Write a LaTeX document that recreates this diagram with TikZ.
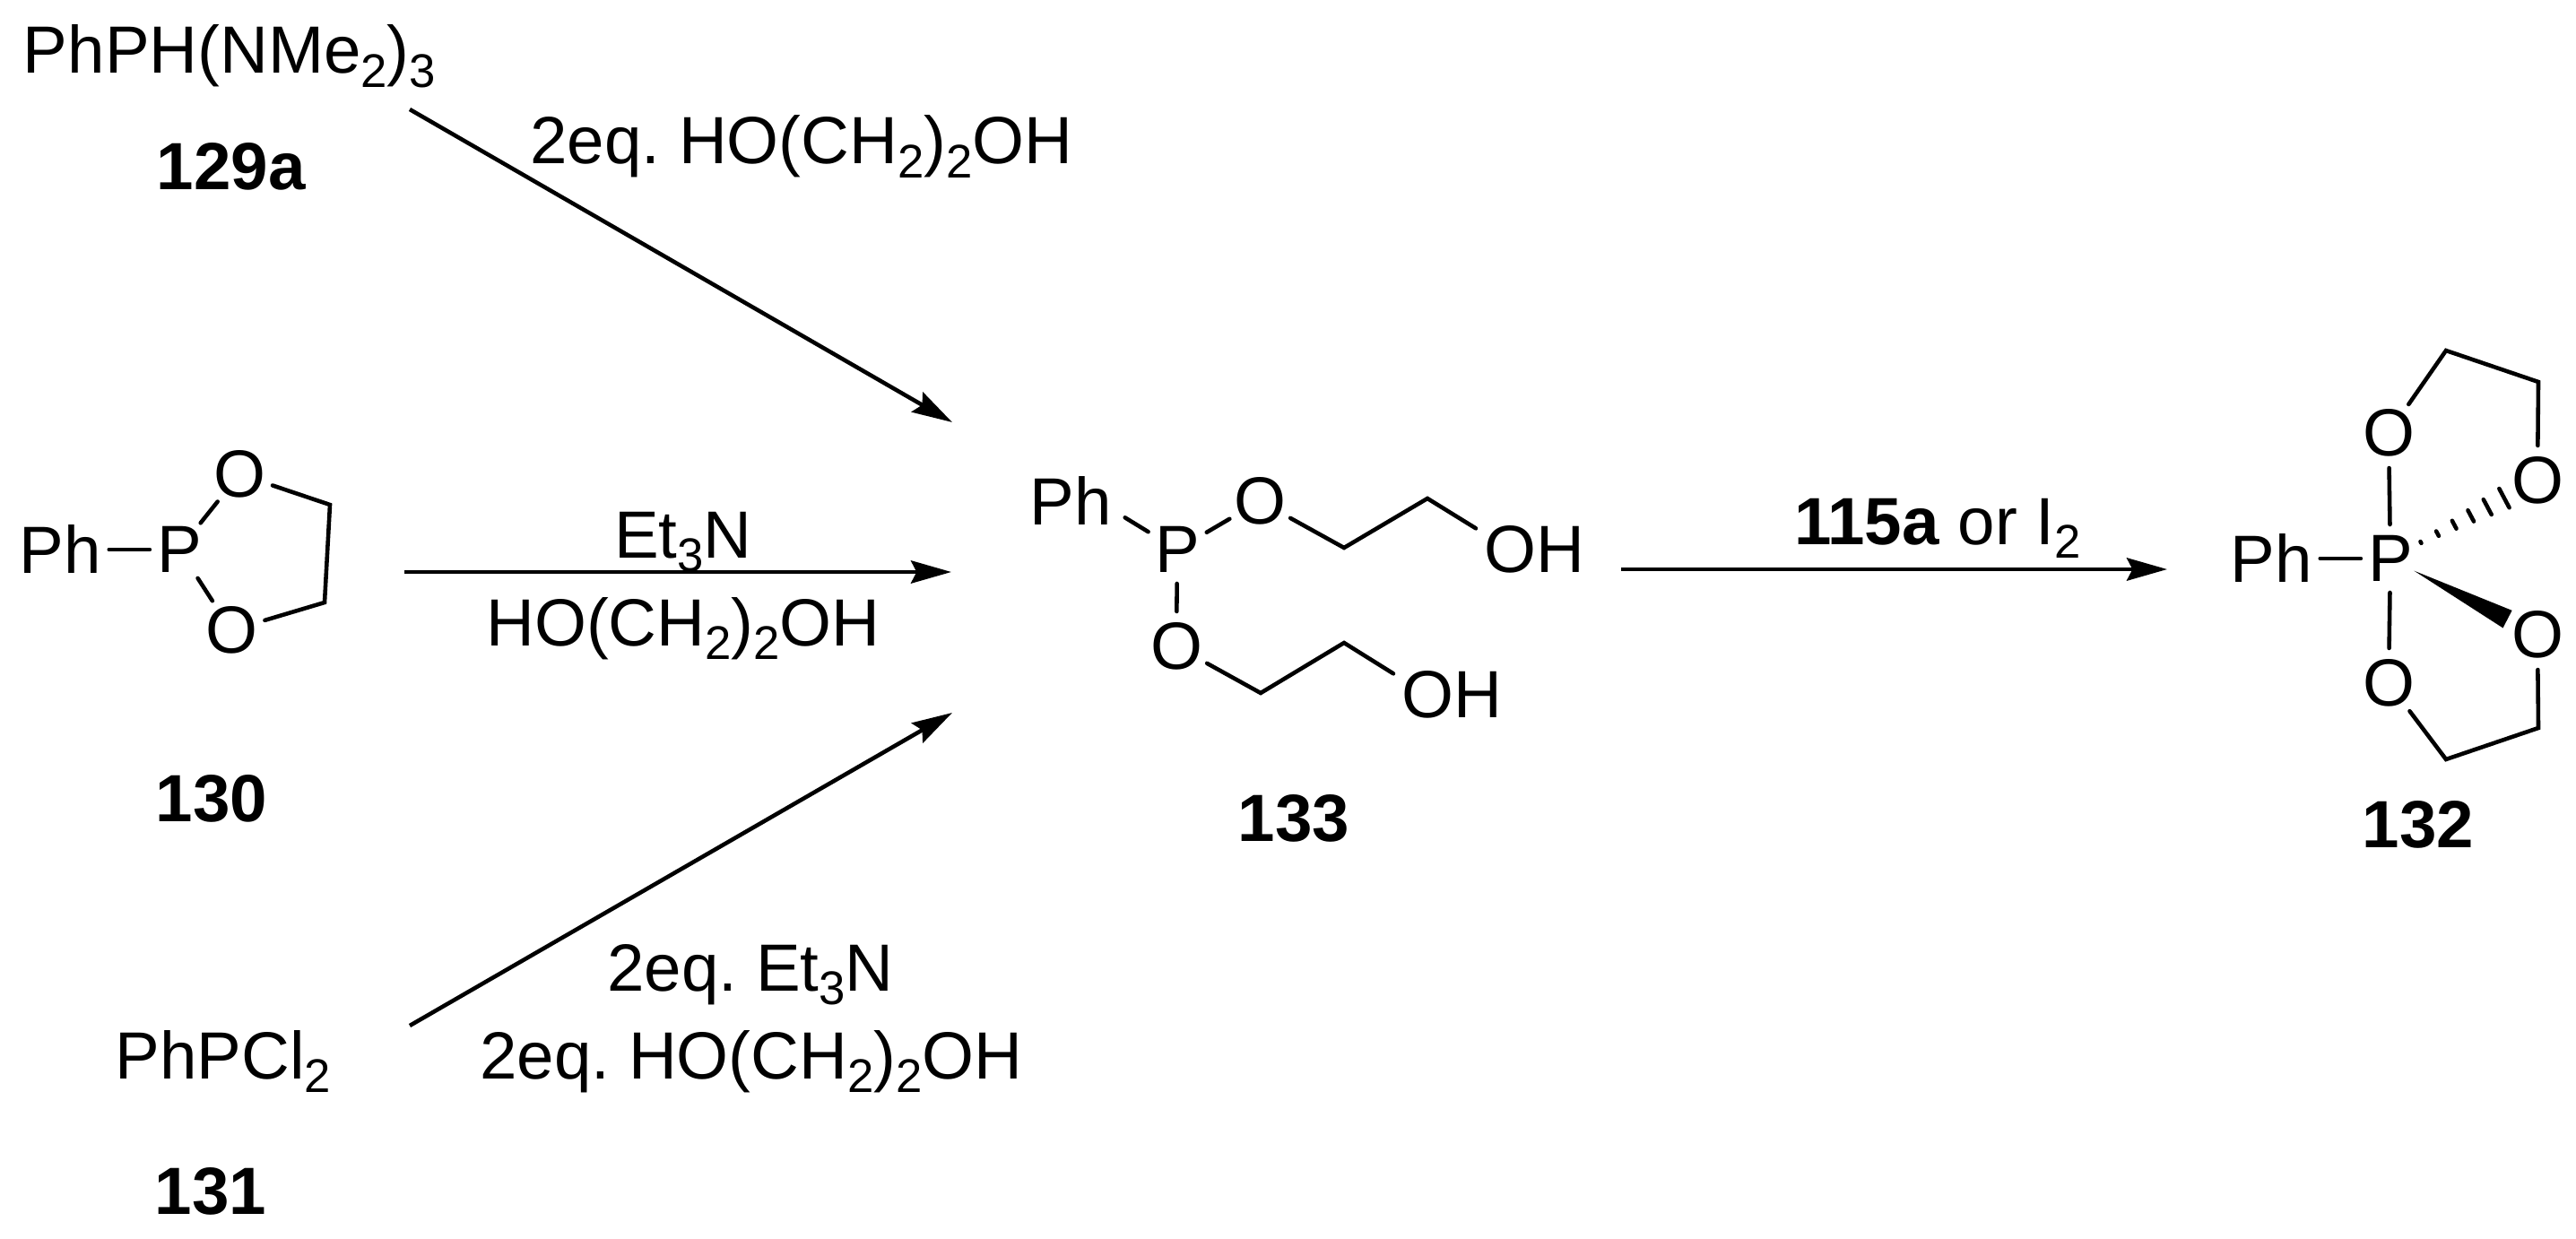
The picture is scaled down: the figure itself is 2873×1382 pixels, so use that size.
\documentclass[tikz,border=0pt]{standalone}
\usepackage{fontspec}
\setmainfont{Liberation Sans}
\usetikzlibrary{arrows.meta,calc}
\newcommand{\chemsub}[1]{\raisebox{-4.5pt}{\fontsize{15}{15}\selectfont #1}}
\frenchspacing
\tikzset{
    every node/.style={font=\fontsize{21.2}{25}\selectfont},
    atom/.style={circle, inner sep=0, outer sep=0, minimum size=.76cm},
    lig/.style={inner sep=2.6pt, outer sep=0},
    txt/.style={anchor=base, inner sep=0},
    bond/.style={line width=1.3pt, line cap=round},
    rxn/.style={line width=1.3pt, -{Stealth[length=12.8pt,width=7.2pt,inset=1.8pt]}},
}

\begin{document}
\begin{tikzpicture}[x=.1mm, y=-.1mm]
    \useasboundingbox (0,0) rectangle (2873,1382);
    \def\mw{1.1mm}

    % starting materials
    \node [txt] (s129) at (256,82) {PhPH(NMe\chemsub{2})\chemsub{3}};
    \node [txt] (n129) at (258,212) {\textbf{129a}};
    \node [txt] (s131) at (249,1203) {PhPCl\chemsub{2}};
    \node [txt] (n131) at (235,1354) {\textbf{131}};

    \node [lig] (Ph130) at (67,613) {Ph};
    \node [atom] (P130) at (200,613) {P};
    \node [atom] (O130a) at (267,529) {O};
    \node [atom] (O130b) at (258,703) {O};
    \coordinate (C130a) at (368,563);
    \coordinate (C130b) at (362,672);
    \draw [bond, shorten >=-1.4pt] (Ph130) -- (P130);
    \draw [bond] (P130) -- (O130a);
    \draw [bond] (P130) -- (O130b);
    \draw [bond] (O130a) -- (C130a) -- (C130b) -- (O130b);
    \node [txt] (n130) at (236,916) {\textbf{130}};

    % the three routes and their reagents
    \coordinate (a1s) at (457,122);
    \coordinate (a1e) at (1062,471);
    \coordinate (a2s) at (451,638);
    \coordinate (a2e) at (1061,638);
    \coordinate (a3s) at (457,1144);
    \coordinate (a3e) at (1062,795);
    \draw [rxn] (a1s) -- (a1e);
    \draw [rxn] (a2s) -- (a2e);
    \draw [rxn] (a3s) -- (a3e);
    \node [txt] (r1) at (894,183) {2eq. HO(CH\chemsub{2})\chemsub{2}OH};
    \node [txt] (r2a) at (762,622) {Et\chemsub{3}N};
    \node [txt] (r2b) at (762,720) {HO(CH\chemsub{2})\chemsub{2}OH};
    \node [txt] (r3a) at (837,1105) {2eq. Et\chemsub{3}N};
    \node [txt] (r3b) at (838,1203) {2eq. HO(CH\chemsub{2})\chemsub{2}OH};

    % intermediate
    \node [lig] (Ph133) at (1194,559) {Ph};
    \node [atom] (P133) at (1313,613) {P};
    \node [atom] (O133a) at (1405,559) {O};
    \node [atom] (O133b) at (1312,721) {O};
    \coordinate (C133a) at (1499,611);
    \coordinate (C133b) at (1592,556);
    \coordinate (C133c) at (1406,773);
    \coordinate (C133d) at (1499,717);
    \node [lig] (OH133a) at (1711,613) {OH};
    \node [lig] (OH133b) at (1619,775) {OH};
    \draw [bond, shorten <=2pt] (Ph133.-15) -- (P133);
    \draw [bond] (P133) -- (O133a);
    \draw [bond] (P133) -- (O133b);
    \draw [bond] (O133a) -- (C133a) -- (C133b) -- (OH133a.160);
    \draw [bond] (O133b) -- (C133c) -- (C133d) -- (OH133b.160);
    \node [txt] (n133) at (1443,938) {\textbf{133}};

    \coordinate (a4s) at (1808,635);
    \coordinate (a4e) at (2417,635);
    \draw [rxn] (a4s) -- (a4e);
    \node [txt] (r4) at (2161,607) {\textbf{115a} or I\chemsub{2}};

    % product
    \node [lig] (Ph132) at (2533,623) {Ph};
    \node [atom] (P132) at (2666,623) {P};
    \node [atom] (O132a) at (2664,483) {O};
    \node [atom] (O132b) at (2830,536) {O};
    \node [atom] (O132c) at (2830,708) {O};
    \node [atom] (O132d) at (2664,762) {O};
    \coordinate (C132a) at (2728,391);
    \coordinate (C132b) at (2831,426);
    \coordinate (C132c) at (2831,812);
    \coordinate (C132d) at (2728,847);
    \draw [bond, shorten >=-1.4pt] (Ph132) -- (P132);
    \draw [bond] (P132) -- (O132a);
    \draw [bond] (P132) -- (O132d);
    \draw [bond] (O132a) -- (C132a) -- (C132b) -- (O132b);
    \draw [bond] (O132d) -- (C132d) -- (C132c) -- (O132c);
    \fill ($(P132)!.16!(O132c)$) -- ($(P132)!.796!(O132c)!\mw!90:(O132c)$) -- ($(P132)!.796!(O132c)!\mw!-90:(O132c)$) -- cycle;
    \foreach \t/\l in {.207/.1mm,.32/.3mm,.434/.5mm,.547/.7mm,.66/.95mm,.774/1.2mm}{
        \draw [bond] ($(P132)!\t!(O132b)!\l!90:(O132b)$) -- ($(P132)!\t!(O132b)!\l!-90:(O132b)$);
    }
    \node [txt] (n132) at (2697,945) {\textbf{132}};
\end{tikzpicture}
\end{document}
